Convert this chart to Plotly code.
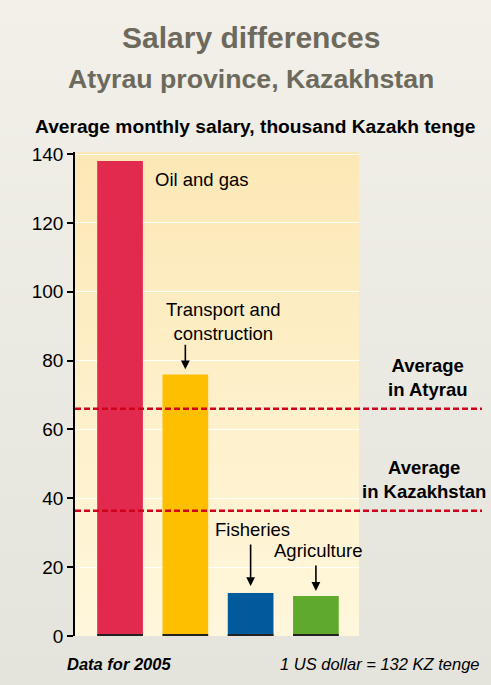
import base64
import plotly.graph_objects as go

# data
sectors = ["Oil and gas", "Transport and construction", "Fisheries", "Agriculture"]
salary = [138, 76, 12.5, 11.6]
bar_colors = ["#e22a4e", "#fdbf00", "#005a9c", "#5fa92d"]
avg_labels = ["Average<br>in Atyrau", "Average<br>in Kazakhstan"]
avg_values = [66, 36.4]
y_ticks = [0, 20, 40, 60, 80, 100, 120, 140]

x_pos = list(range(len(sectors)))
x_range = [-0.69, 3.66]
y_range = [0, 140.6]

FONT = "Liberation Sans, Arial, sans-serif"
W, H = 491, 685
M = dict(l=75, r=132, t=152, b=49)


def gradient_uri(top, bottom):
    svg = ('<svg xmlns="http://www.w3.org/2000/svg" width="10" height="100">'
           '<defs><linearGradient id="g" x1="0" y1="0" x2="0" y2="1">'
           f'<stop offset="0" stop-color="{top}"/><stop offset="1" stop-color="{bottom}"/>'
           '</linearGradient></defs><rect width="10" height="100" fill="url(#g)"/></svg>')
    return "data:image/svg+xml;base64," + base64.b64encode(svg.encode()).decode()


def px(x):
    return (x - M["l"]) / (W - M["l"] - M["r"])


def py(y):
    return (H - M["b"] - y) / (H - M["t"] - M["b"])


fig = go.Figure()

fig.add_trace(go.Bar(
    x=x_pos, y=salary, width=0.70,
    marker=dict(color=bar_colors, line=dict(width=0)),
    showlegend=False, hovertext=sectors,
))
# thin dark foot under each bar
fig.add_trace(go.Bar(
    x=x_pos, y=[0.35] * len(x_pos), width=0.70,
    marker=dict(color="#222222", line=dict(width=0)),
    showlegend=False, hoverinfo="skip",
))

# backgrounds
fig.add_layout_image(source=gradient_uri("#f2f0e9", "#e4e3dc"), xref="paper", yref="paper",
                     x=px(0), y=py(0), sizex=px(W) - px(0), sizey=py(0) - py(H),
                     xanchor="left", yanchor="top", sizing="stretch", layer="below")
fig.add_layout_image(source=gradient_uri("#fce8b6", "#fff7dc"), xref="paper", yref="paper",
                     x=0, y=1, sizex=1, sizey=1,
                     xanchor="left", yanchor="top", sizing="stretch", layer="below")

# averages: dashed lines running past the plot
for v, lab, cx in zip(avg_values, avg_labels, [428, 424]):
    fig.add_shape(type="line", xref="paper", yref="y", x0=0, x1=px(482),
                  y0=v, y1=v, line=dict(color="#d0021b", width=2.5, dash="6px,3px"))
    fig.add_annotation(text="<b>" + lab + "</b>", xref="paper", yref="y",
                       x=px(cx), y=v + 9.2, xanchor="center", yanchor="middle",
                       showarrow=False, font=dict(size=18.5, color="black", family=FONT))

# sector labels
lab_font = dict(size=18.5, color="black", family=FONT)
fig.add_annotation(text="Oil and gas", x=0.5, y=132.5, xanchor="left",
                   showarrow=False, font=lab_font)
fig.add_annotation(text="Transport and<br>construction", x=1.577, y=91.3,
                   showarrow=False, font=lab_font)
fig.add_annotation(text="Fisheries", x=2.03, y=30.8, showarrow=False, font=lab_font)
fig.add_annotation(text="Agriculture", x=3.03, y=24.7, showarrow=False, font=lab_font)

# arrows
arrows = [(1, salary[1] + 1.5, 26), (2, salary[2] + 2, 43), (3, salary[3] + 1.5, 27)]
for xi, yi, length in arrows:
    fig.add_annotation(x=xi, y=yi, ax=0, ay=-length, text="", showarrow=True,
                       arrowhead=2, arrowsize=1.1, arrowwidth=1.6, arrowcolor="black")

# titles and footer
fig.add_annotation(text="<b>Salary differences</b>", xref="paper", yref="paper",
                   x=px(251), y=py(37), xanchor="center", yanchor="middle", showarrow=False,
                   font=dict(size=30, color="#6d6a5d", family=FONT))
fig.add_annotation(text="<b>Atyrau province, Kazakhstan</b>", xref="paper", yref="paper",
                   x=px(251), y=py(79), xanchor="center", yanchor="middle", showarrow=False,
                   font=dict(size=26.7, color="#6d6a5d", family=FONT))
fig.add_annotation(text="<b>Average monthly salary, thousand Kazakh tenge</b>",
                   xref="paper", yref="paper", x=px(255), y=py(126),
                   xanchor="center", yanchor="middle", showarrow=False,
                   font=dict(size=19.2, color="black", family=FONT))
fig.add_annotation(text="<b><i>Data for 2005</i></b>", xref="paper", yref="paper",
                   x=px(65), y=py(664), xanchor="left", yanchor="middle", showarrow=False,
                   font=dict(size=16.5, color="black", family=FONT))
fig.add_annotation(text="<i>1 US dollar = 132 KZ tenge</i>", xref="paper", yref="paper",
                   x=px(482), y=py(664), xanchor="right", yanchor="middle", showarrow=False,
                   font=dict(size=16.5, color="black", family=FONT))

fig.update_layout(
    width=W, height=H,
    margin=M,
    paper_bgcolor="#eeede6",
    plot_bgcolor="rgba(0,0,0,0)",
    font=dict(family=FONT, color="black"),
    barmode="overlay",
    xaxis=dict(visible=False, range=x_range, fixedrange=True),
    yaxis=dict(range=y_range, tickvals=y_ticks, ticks="outside", ticklen=6,
               tickwidth=1.5, tickcolor="black", showline=True, linecolor="black",
               linewidth=1.5, showgrid=True, gridcolor="rgba(255,255,255,0.9)", gridwidth=1,
               zeroline=False, tickfont=dict(size=19, color="black", family=FONT)),
)

fig.write_html("out.html", config={"displayModeBar": False},
               post_script="document.body.style.margin='0';")
